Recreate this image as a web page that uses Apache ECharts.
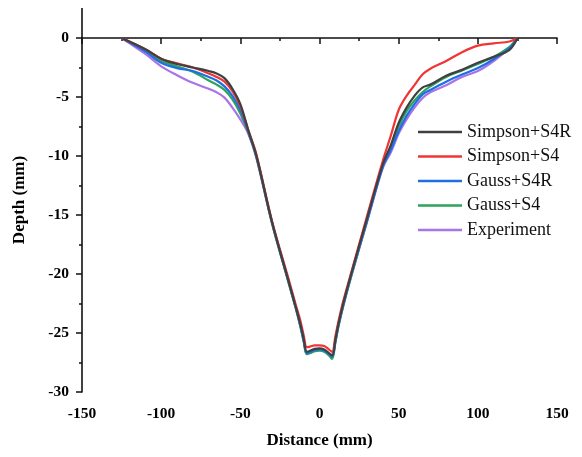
<!DOCTYPE html>
<html><head><meta charset="utf-8">
<script src="https://cdn.jsdelivr.net/npm/echarts@6/dist/echarts.min.js"></script>
<style>html,body{margin:0;padding:0;background:#fff}#c{width:582px;height:457px}</style>
</head><body><div id="c"></div>
<script>
const seriesNames = ['Simpson+S4R','Simpson+S4','Gauss+S4R','Gauss+S4','Experiment'];
const distance = [-125,-110,-100,-90,-80,-70,-65,-60,-55,-50,-45,-40,-30,-20,-15,-12,-10,-8,-6,-3,0,3,6,8,10,12,15,20,30,40,45,50,55,60,65,70,80,90,100,110,120,125];
const simpsonS4R = [0,-0.95,-1.75,-2.2,-2.5,-2.8,-3.0,-3.4,-4.3,-5.6,-7.8,-9.9,-15.6,-20.4,-22.8,-24.3,-25.5,-26.6,-26.5,-26.35,-26.3,-26.4,-26.7,-26.9,-25.6,-24.2,-22.5,-20.0,-15.3,-10.7,-9.1,-7.2,-5.9,-4.9,-4.2,-3.95,-3.2,-2.7,-2.1,-1.6,-1.0,0];
const simpsonS4 = [0,-0.95,-1.75,-2.15,-2.5,-3.0,-3.3,-3.7,-4.5,-5.8,-7.8,-9.8,-15.5,-20.2,-22.6,-24.0,-25.2,-26.2,-26.15,-26.05,-26.05,-26.1,-26.4,-26.6,-25.3,-24.0,-22.3,-19.9,-15.1,-10.4,-8.3,-6.1,-4.9,-4.0,-3.1,-2.6,-1.95,-1.2,-0.65,-0.45,-0.3,0];
const gaussS4R = [0,-1.15,-2.1,-2.55,-2.8,-3.3,-3.6,-4.1,-4.9,-6.1,-7.95,-9.95,-15.6,-20.4,-22.8,-24.4,-25.6,-26.7,-26.6,-26.45,-26.4,-26.5,-26.8,-27.0,-25.7,-24.3,-22.6,-20.1,-15.5,-10.9,-9.5,-7.9,-6.6,-5.6,-4.8,-4.4,-3.7,-3.1,-2.55,-1.8,-0.85,0];
const gaussS4 = [0,-1.05,-1.95,-2.4,-2.85,-3.6,-3.95,-4.4,-5.2,-6.4,-8.0,-10.0,-15.7,-20.5,-22.9,-24.5,-25.7,-26.8,-26.7,-26.55,-26.5,-26.6,-26.9,-27.2,-25.8,-24.4,-22.7,-20.2,-15.5,-10.8,-9.3,-7.5,-6.2,-5.3,-4.6,-4.1,-3.3,-2.75,-2.2,-1.6,-0.75,0];
const experiment = [0,-1.35,-2.4,-3.15,-3.8,-4.3,-4.6,-5.05,-5.9,-6.9,-8.1,-10.1,-15.7,-20.5,-22.9,-24.5,-25.7,-26.8,-26.7,-26.5,-26.4,-26.5,-26.8,-27.0,-25.8,-24.4,-22.7,-20.2,-15.6,-11.0,-9.7,-8.1,-6.9,-5.9,-5.1,-4.6,-4.0,-3.3,-2.8,-1.95,-0.85,0];
const xTicks = [-150,-100,-50,0,50,100,150];
const yTicks = [-30,-25,-20,-15,-10,-5,0];

const allY = [simpsonS4R, simpsonS4, gaussS4R, gaussS4, experiment];
const colors = ['#404040','#f03535','#1e6ee6','#2ea35a','#a874e8'];
const serif = '"Liberation Serif","Times New Roman",serif';

const chart = echarts.init(document.getElementById('c'));
const option = {
  animation: false,
  backgroundColor: '#fff',
  grid: {left: 82, right: 25, top: 38, bottom: 65},
  legend: {
    orient: 'vertical', left: 413, top: 118, itemWidth: 44, itemHeight: 2.5, itemGap: 6.5, icon: 'rect',
    textStyle: {fontFamily: serif, fontSize: 18, color: '#111'},
    data: seriesNames
  },
  xAxis: {
    type: 'value', min: xTicks[0], max: xTicks[xTicks.length-1], interval: 50,
    name: 'Distance (mm)', nameLocation: 'middle', nameGap: 40,
    nameTextStyle: {fontFamily: serif, fontSize: 17, fontWeight: 'bold', color: '#000'},
    axisLine: {lineStyle: {color: '#111', width: 1.6}},
    axisTick: {inside: false, length: 6, lineStyle: {color: '#111', width: 1.5}},
    minorTick: {show: true, splitNumber: 2, length: 3, lineStyle: {color: '#111', width: 1.5}},
    axisLabel: {fontFamily: serif, fontSize: 15.5, fontWeight: 'bold', color: '#000', margin: 14},
    splitLine: {show: false}
  },
  yAxis: {
    type: 'value', min: yTicks[0], max: yTicks[yTicks.length-1], interval: 5,
    name: 'Depth (mm)', nameLocation: 'middle', nameGap: 54, nameRotate: 90,
    nameTextStyle: {fontFamily: serif, fontSize: 17, fontWeight: 'bold', color: '#000', padding: [0, 0, 0, 30]},
    axisLine: {onZero: false, lineStyle: {color: '#111', width: 1.6}},
    axisTick: {inside: false, length: 6, lineStyle: {color: '#111', width: 1.5}},
    minorTick: {show: true, splitNumber: 2, length: 3, lineStyle: {color: '#111', width: 1.5}},
    axisLabel: {fontFamily: serif, fontSize: 15.5, fontWeight: 'bold', color: '#000', margin: 13},
    splitLine: {show: false}
  },
  series: seriesNames.map((n, i) => ({
    name: n, type: 'line', smooth: 0.35, showSymbol: false, symbol: 'none',
    lineStyle: {color: colors[i], width: 2.2}, itemStyle: {color: colors[i]},
    data: distance.map((x, j) => [x, allY[i][j]]),
    z: 10 - i
  }))
};
chart.setOption(option);
// extend the y axis line above 0 (axis decoration only)
const p0 = chart.convertToPixel({gridIndex: 0}, [xTicks[0], yTicks[yTicks.length-1]]);
chart.setOption({graphic: [{type: 'line', shape: {x1: p0[0], y1: p0[1], x2: p0[0], y2: p0[1] - 30}, style: {stroke: '#111', lineWidth: 1.6}}]});
</script></body></html>
